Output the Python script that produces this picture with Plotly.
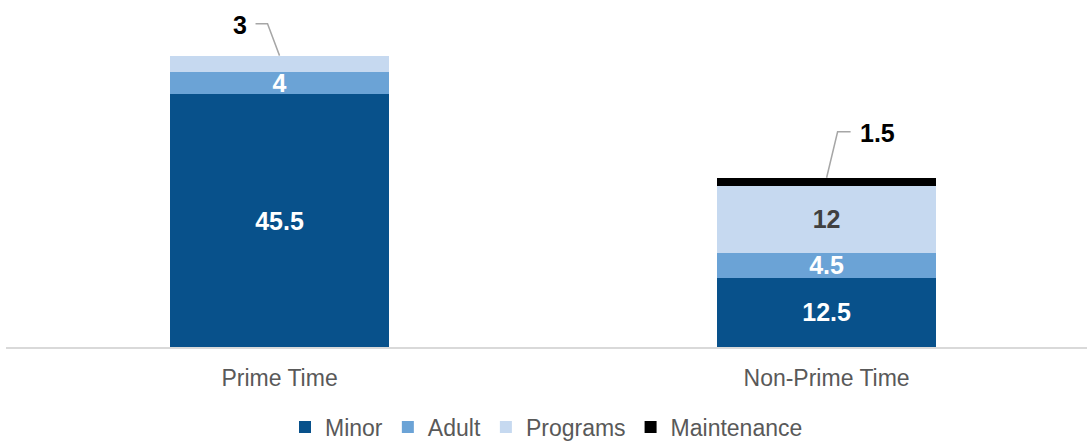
import plotly.graph_objects as go

# Stacked hours by time slot
categories = ["Prime Time", "Non-Prime Time"]
minor = [45.5, 12.5]
adult = [4, 4.5]
programs = [3, 12]
maintenance = [0, 1.5]

series_names = ["Minor", "Adult", "Programs", "Maintenance"]
series_colors = ["#08518b", "#6ba3d6", "#c6d9f0", "#000000"]

FONT = "Liberation Sans, Arial, sans-serif"

fig = go.Figure()

# which values are printed inside their segment
inside_text = {
    "Minor": [f"{v:g}" for v in minor],
    "Adult": [f"{v:g}" for v in adult],
    "Programs": ["", f"{programs[1]:g}"],
    "Maintenance": ["", ""],
}
text_colors = {
    "Minor": "#ffffff",
    "Adult": "#ffffff",
    "Programs": "#404040",
    "Maintenance": "#ffffff",
}

for name, values, color in zip(series_names, [minor, adult, programs, maintenance], series_colors):
    fig.add_trace(go.Bar(
        name=name,
        x=categories,
        y=values,
        marker=dict(color=color, line=dict(width=0)),
        width=0.4,
        text=inside_text[name],
        textposition="inside",
        insidetextanchor="middle",
        textangle=0,
        textfont=dict(family=FONT, size=25, color=text_colors[name], weight="bold"),
        hoverinfo="skip",
    ))

totals = [a + b + c + d for a, b, c, d in zip(minor, adult, programs, maintenance)]

# callout labels with elbow leader lines for the thin top segments
callouts = [
    (categories[0], totals[0], f"{programs[0]:g}", "M 0 0 L -12 32 L -24 32", -40, 31),
    (categories[1], totals[1], f"{maintenance[1]:g}", "M 0 0 L 11 46 L 24 46", 51, 45),
]
for cat, top, label, path, dx, dy in callouts:
    fig.add_shape(
        type="path", xref="x", yref="y",
        xsizemode="pixel", ysizemode="pixel",
        xanchor=cat, yanchor=top,
        path=path,
        line=dict(color="#a6a6a6", width=1.5),
    )
    fig.add_annotation(
        x=cat, y=top, xref="x", yref="y",
        text=label, showarrow=False,
        xshift=dx, yshift=dy,
        font=dict(family=FONT, size=25, color="#000000", weight="bold"),
    )

fig.update_layout(
    barmode="stack",
    width=1087, height=441,
    margin=dict(l=6, r=0, t=14, b=94, autoexpand=False),
    paper_bgcolor="#ffffff",
    plot_bgcolor="#ffffff",
    uniformtext=dict(minsize=25, mode="show"),
    showlegend=True,
    legend=dict(
        orientation="h", x=0.5, xanchor="center",
        yref="container", y=14 / 441, yanchor="middle",
        font=dict(family=FONT, size=23, color="#595959"),
        traceorder="normal",
    ),
    xaxis=dict(
        type="category",
        range=[-0.5, 1.476],
        automargin=False,
        showline=True, linecolor="#d9d9d9", linewidth=2,
        showgrid=False, zeroline=False, ticks="",
        ticklabelstandoff=9,
        tickfont=dict(family=FONT, size=23, color="#595959"),
        fixedrange=True,
    ),
    yaxis=dict(
        range=[0, 60], visible=False, showgrid=False, zeroline=False,
        automargin=False, fixedrange=True,
    ),
)

fig.write_html("out.html")
